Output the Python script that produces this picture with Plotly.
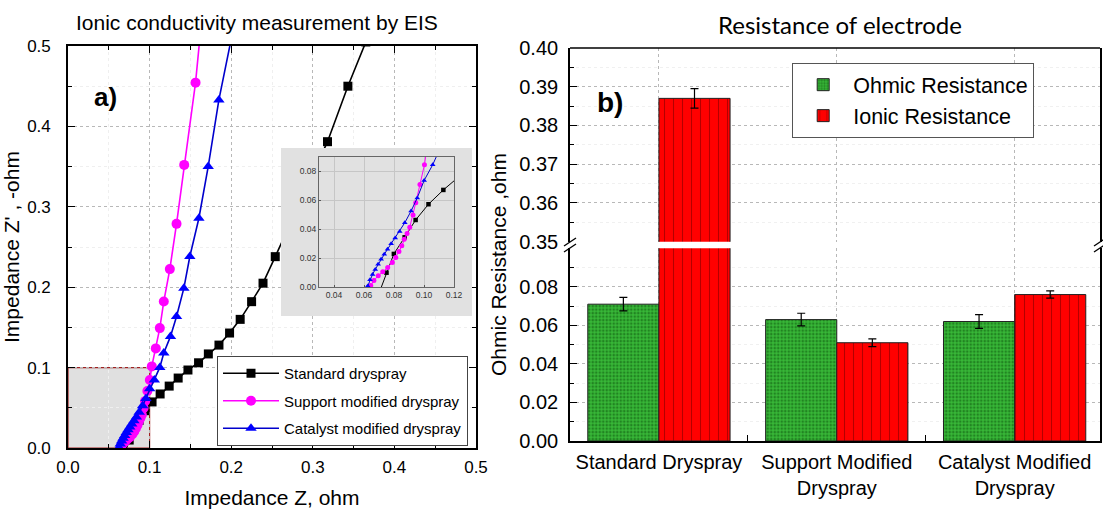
import plotly.graph_objects as go

W, H = 1103, 509

# ---------------- data: EIS Nyquist (left panel) ----------------
std_x = [0.0694, 0.0750, 0.0799, 0.0871, 0.0944, 0.1030, 0.1129, 0.124, 0.135, 0.147, 0.160,
         0.172, 0.185, 0.198, 0.211, 0.225, 0.239, 0.254, 0.318, 0.343, 0.365]
std_y = [-0.006, 0.0099, 0.0229, 0.0344, 0.0464, 0.0573, 0.0672, 0.077, 0.087, 0.097, 0.106,
         0.117, 0.128, 0.143, 0.160, 0.182, 0.205, 0.238, 0.381, 0.450, 0.505]

sup_x = [0.0645, 0.0666, 0.0695, 0.0725, 0.0758, 0.0789, 0.0812, 0.0833, 0.0852, 0.0868, 0.0887,
         0.0905, 0.0927, 0.0945, 0.0973, 0.1003, 0.1027, 0.1076, 0.1125, 0.1174, 0.1248, 0.1330,
         0.1424, 0.1563, 0.1616]
sup_y = [0.0010, 0.0045, 0.0078, 0.0105, 0.0135, 0.0170, 0.0205, 0.0245, 0.0285, 0.0330, 0.0370,
         0.0414, 0.0498, 0.0583, 0.0709, 0.0846, 0.1015, 0.1239, 0.1491, 0.1823, 0.2225, 0.2788,
         0.3521, 0.4544, 0.5100]

cat_x = [0.0625, 0.0640, 0.0657, 0.0675, 0.0694, 0.0714, 0.0735, 0.0757, 0.0781, 0.0808, 0.0838,
         0.0872, 0.0914, 0.0955, 0.1001, 0.1058, 0.1125, 0.1174, 0.1256, 0.1330, 0.1420, 0.1493,
         0.1604, 0.1718, 0.1849, 0.2003]
cat_y = [0.0007, 0.0050, 0.0087, 0.0122, 0.0157, 0.0192, 0.0226, 0.0262, 0.0300, 0.0340, 0.0385,
         0.0445, 0.0526, 0.0617, 0.0738, 0.0846, 0.1002, 0.1181, 0.1388, 0.1636, 0.1988, 0.2382,
         0.2858, 0.3500, 0.4329, 0.5100]

series_names = ["Standard dryspray", "Support modified dryspray", "Catalyst modified dryspray"]

# inset tick labels
inset_xticks = [0.04, 0.06, 0.08, 0.10, 0.12]
inset_yticks = [0.00, 0.02, 0.04, 0.06, 0.08]

# ---------------- data: resistance bars (right panel) ----------------
categories = ["Standard Dryspray", "Support Modified<br>Dryspray", "Catalyst Modified<br>Dryspray"]
ohmic = [0.071, 0.063, 0.062]
ohmic_err = [0.0035, 0.0033, 0.0036]
ionic = [0.387, 0.051, 0.076]
ionic_err = [0.0025, 0.0020, 0.0019]
lower_ticks = [0.00, 0.02, 0.04, 0.06, 0.08]
upper_ticks = [0.35, 0.36, 0.37, 0.38, 0.39, 0.40]

FONT = "Arial, Liberation Sans, sans-serif"

fig = go.Figure()

styles = [
    dict(color="black", line="black", symbol="square", size=9, isize=4.5),
    dict(color="#ff00ff", line="#ff00ff", symbol="circle", size=10, isize=5),
    dict(color="#0000ff", line="#0000cc", symbol="triangle-up", size=10, isize=5),
]
xs = [std_x, sup_x, cat_x]
ys = [std_y, sup_y, cat_y]

for name, x, y, st in zip(series_names, xs, ys, styles):
    fig.add_trace(go.Scatter(
        x=x, y=y, mode="lines+markers", name=name, xaxis="x", yaxis="y",
        legend="legend", legendgroup=name,
        line=dict(color=st["line"], width=1.6),
        marker=dict(symbol=st["symbol"], size=st["size"], color=st["color"]),
    ))

# empty placeholder for the grey inset panel subplot
fig.add_trace(go.Scatter(x=[], y=[], xaxis="x2", yaxis="y2", showlegend=False, hoverinfo="skip"))

for name, x, y, st in zip(series_names, xs, ys, styles):
    fig.add_trace(go.Scatter(
        x=x, y=y, mode="lines+markers", name=name, xaxis="x3", yaxis="y3",
        showlegend=False,
        line=dict(color=st["line"], width=1),
        marker=dict(symbol=st["symbol"], size=st["isize"], color=st["color"]),
    ))

pos = list(range(len(categories)))
green_marker = dict(color="#33b533", line=dict(color="#222222", width=1),
                    pattern=dict(shape=".", fgcolor="#0c500c", bgcolor="#38b838", size=3.5, solidity=0.45))
red_marker = dict(color="#ff0000", line=dict(color="#222222", width=1),
                  pattern=dict(shape="|", fgcolor="#6a0000", bgcolor="#ff0000", size=9, solidity=0.12))

for yax, show in (("y4", True), ("y5", False)):
    fig.add_trace(go.Bar(
        x=pos, y=ohmic, name="Ohmic Resistance", xaxis="x4", yaxis=yax, offsetgroup="g",
        legend="legend2", showlegend=show, marker=green_marker,
        error_y=dict(type="data", array=ohmic_err, color="black", thickness=1.2, width=4),
    ))
    fig.add_trace(go.Bar(
        x=pos, y=ionic, name="Ionic Resistance", xaxis="x4", yaxis=yax, offsetgroup="r",
        legend="legend2", showlegend=show, marker=red_marker,
        error_y=dict(type="data", array=ionic_err, color="black", thickness=1.2, width=4),
    ))


def px_x(a, b):
    return [a / W, b / W]


def px_y(top, bottom):
    return [1 - bottom / H, 1 - top / H]


common = dict(showline=True, linecolor="black", linewidth=1.6, zeroline=False,
              ticks="inside", tickcolor="black", tickwidth=1.3, automargin=False,
              tickfont=dict(size=17, color="black", family=FONT))

fig.update_layout(
    width=W, height=H, margin=dict(l=0, r=0, t=0, b=0, pad=0, autoexpand=False),
    paper_bgcolor="white", plot_bgcolor="white",
    font=dict(family=FONT, color="black"),
    barmode="group", bargap=0.2, bargroupgap=0,
    xaxis=dict(domain=px_x(68, 476), anchor="y", range=[0, 0.5], dtick=0.1, tick0=0,
               tickformat=".1f", ticklen=7, mirror="ticks", ticklabelstandoff=3,
               showgrid=True, gridcolor="#b8b8b8", griddash="3px,3px", gridwidth=1,
               minor=dict(dtick=0.05, ticks="inside", ticklen=4, tickcolor="black",
                          showgrid=True, gridcolor="#efefef"),
               title=dict(text="Impedance Z, ohm", font=dict(size=21), standoff=14),
               **common),
    yaxis=dict(domain=px_y(46, 448), anchor="x", range=[0, 0.5], dtick=0.1, tick0=0,
               tickformat=".1f", ticklen=7, mirror="ticks", ticklabelstandoff=12,
               showgrid=True, gridcolor="#b8b8b8", griddash="3px,3px", gridwidth=1,
               minor=dict(dtick=0.05, ticks="inside", ticklen=4, tickcolor="black",
                          showgrid=True, gridcolor="#efefef"),
               title=dict(text="Impedance Z' , -ohm", font=dict(size=21), standoff=6),
               **common),
    xaxis2=dict(domain=px_x(281, 472), anchor="y2", range=[0, 1], visible=False),
    yaxis2=dict(domain=px_y(148, 316), anchor="x2", range=[0, 1], visible=False),
    xaxis3=dict(domain=px_x(319, 454), anchor="y3", range=[0.03, 0.12], tickvals=inset_xticks,
                tickformat=".2f", ticks="inside", ticklen=2, tickcolor="#555",
                tickfont=dict(size=8.5, color="#333"), showline=True, linecolor="#666",
                linewidth=1, mirror=True, showgrid=True, gridcolor="#c6c6c6", zeroline=False,
                automargin=False),
    yaxis3=dict(domain=px_y(157, 287), anchor="x3", range=[0, 0.09], tickvals=inset_yticks,
                tickformat=".2f", ticks="inside", ticklen=2, tickcolor="#555",
                tickfont=dict(size=8.5, color="#333"), showline=True, linecolor="#666",
                linewidth=1, mirror=True, showgrid=True, gridcolor="#c6c6c6", zeroline=False,
                automargin=False),
    xaxis4=dict(domain=px_x(570, 1100), anchor="y4", range=[-0.5, 2.48], tickvals=pos,
                ticktext=categories, ticks="", showline=True, linecolor="black", linewidth=1.6,
                showgrid=True, gridcolor="#b8b8b8", griddash="3px,3px", zeroline=False,
                tickfont=dict(size=20, color="black"), automargin=False, ticklabelstandoff=2,
                minor=dict(tickvals=[0.5, 1.5], ticks="inside", ticklen=6, tickcolor="black",
                           showgrid=False)),
    yaxis4=dict(domain=px_y(248.3, 441), anchor="x4", range=[0, 0.1], tickvals=lower_ticks,
                tickformat=".2f", ticklen=7, mirror=True, ticklabelstandoff=6,
                showgrid=True, gridcolor="#b8b8b8", griddash="3px,3px",
                minor=dict(dtick=0.01, ticks="inside", ticklen=4, tickcolor="black",
                           showgrid=True, gridcolor="#f0f0f0"),
                **{**common, "tickfont": dict(size=20, color="black", family=FONT)}),
    yaxis5=dict(domain=px_y(48, 241.7), anchor="x4", range=[0.35, 0.40], tickvals=upper_ticks,
                tickformat=".2f", ticklen=7, mirror=True, ticklabelstandoff=6,
                showgrid=True, gridcolor="#b8b8b8", griddash="3px,3px",
                minor=dict(dtick=0.005, ticks="inside", ticklen=4, tickcolor="black",
                           showgrid=True, gridcolor="#f0f0f0"),
                **{**common, "tickfont": dict(size=20, color="black", family=FONT)}),
    legend=dict(x=217 / W, y=1 - 356 / H, xanchor="left", yanchor="top",
                bgcolor="white", bordercolor="#444", borderwidth=1,
                font=dict(size=15, color="black"), itemwidth=56,
                traceorder="grouped", tracegroupgap=5),
    legend2=dict(x=792 / W, y=1 - 63 / H, xanchor="left", yanchor="top",
                 bgcolor="white", bordercolor="#555", borderwidth=1.2, itemwidth=50,
                 tracegroupgap=0, font=dict(size=21.5, color="black")),
)

shapes = [
    # zoom-region box on the main plot
    dict(type="rect", xref="x", yref="y", x0=0, x1=0.1, y0=0, y1=0.1, layer="below",
         fillcolor="#e0e0e0", line=dict(color="#a02020", width=1.2)),
    # grey inset panel (drawn in the inset-panel subplot so it covers the main curves)
    dict(type="rect", xref="x2", yref="y2", x0=0, x1=1, y0=0, y1=1, layer="below",
         fillcolor="#e1e1e1", line=dict(width=0)),
    dict(type="rect", xref="x3", yref="y3", x0=0.03, x1=0.12, y0=0, y1=0.09, layer="below",
         fillcolor="#e1e1e1", line=dict(width=0)),
    # top frame of right panel
    dict(type="line", xref="x4 domain", yref="y5 domain", x0=0, x1=1, y0=1, y1=1,
         layer="above", line=dict(color="black", width=1.6)),
]
yc = 1 - 245 / H
dx, dy, off = 6 / 530, 4 / H, 3 / H
for xe in (0, 1):
    for o in (-off, off):
        shapes.append(dict(type="line", xref="x4 domain", yref="paper",
                           x0=xe - dx, x1=xe + dx, y0=yc + o - dy, y1=yc + o + dy,
                           layer="above", line=dict(color="black", width=1.3)))
fig.update_layout(shapes=shapes)

annotations = [
    dict(text="Ionic conductivity measurement by EIS", x=257 / W, y=1 - 22 / H, xref="paper",
         yref="paper", showarrow=False, font=dict(size=21, color="black"), xanchor="center",
         yanchor="middle"),
    dict(text="Resistance of electrode", x=840 / W, y=1 - 25 / H, xref="paper", yref="paper",
         showarrow=False, font=dict(size=24, color="black", family="Lato, Open Sans, sans-serif"),
         xanchor="center", yanchor="middle"),
    dict(text="<b>a)</b>", x=105 / W, y=1 - 97 / H, xref="paper", yref="paper", showarrow=False,
         font=dict(size=26, color="black"), xanchor="center", yanchor="middle"),
    dict(text="<b>b)</b>", x=610 / W, y=1 - 103 / H, xref="paper", yref="paper", showarrow=False,
         font=dict(size=28, color="black"), xanchor="center", yanchor="middle"),
    dict(text="Ohmic Resistance ,ohm", x=498 / W, y=1 - 265 / H, xref="paper", yref="paper",
         showarrow=False, textangle=-90, font=dict(size=21, color="black"),
         xanchor="center", yanchor="middle"),
]
fig.update_layout(annotations=annotations)

fig.write_html("out.html")
